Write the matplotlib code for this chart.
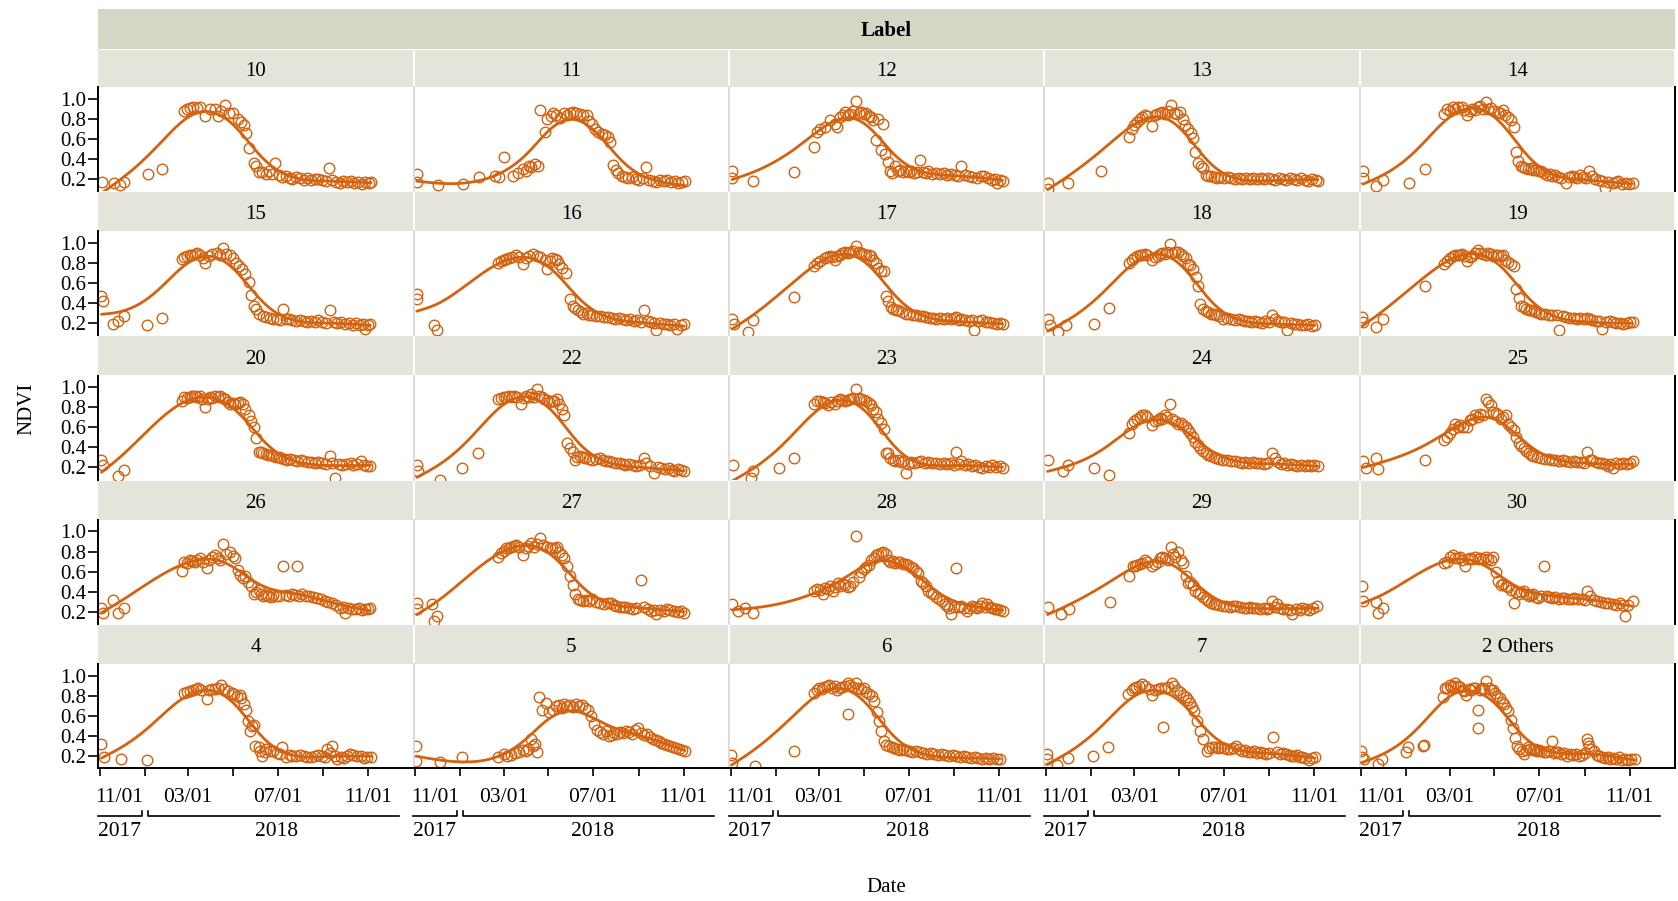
import numpy as np
import matplotlib
matplotlib.use("Agg")
import matplotlib.pyplot as plt
import matplotlib.transforms as mtransforms

plt.rcParams['font.family'] = ['Liberation Serif', 'DejaVu Serif']

# ---------------------------------------------------------------- data
# Observations per label: (days since 2017-11-01, NDVI)
p10 = [(3,.17),(19,.16),(27,.14),(32,.17),(65,.25),(85,.30),(114,.88),(118,.90),(122,.91),(127,.92),(132,.91),(136,.92),(143,.83),(150,.90),(156,.90),(160,.83),(165,.88),(170,.94),(176,.86),(181,.86),(188,.80),(192,.77),(196,.74),(199,.66),(203,.51),(210,.36),(213,.33),(217,.27),(221,.27),(226,.25),(230,.28),(234,.25),(238,.36),(243,.24),(248,.22),(253,.23),(258,.21),(262,.20),(267,.22),(272,.21),(277,.19),(282,.21),(287,.19),(292,.20),(297,.20),(302,.19),(307,.18),(312,.31),(316,.19),(321,.17),(326,.16),(331,.18),(336,.17),(341,.18),(346,.16),(351,.17),(356,.15),(361,.17),(366,.16),(369,.17)]
p11 = [(2,.25),(2,.17),(31,.14),(65,.15),(87,.22),(108,.23),(114,.22),(121,.42),(133,.23),(140,.26),(146,.30),(151,.28),(155,.33),(158,.32),(163,.35),(167,.33),(170,.89),(176,.67),(179,.80),(184,.83),(188,.86),(192,.84),(197,.81),(202,.86),(207,.84),(211,.86),(215,.87),(219,.86),(224,.85),(228,.84),(233,.84),(237,.78),(240,.75),(245,.70),(249,.67),(254,.65),(258,.64),(262,.62),(265,.57),(269,.34),(273,.29),(276,.26),(281,.23),(285,.22),(290,.21),(295,.22),(300,.20),(305,.19),(310,.21),(314,.32),(318,.19),(323,.18),(328,.17),(333,.19),(338,.18),(343,.19),(348,.17),(353,.18),(358,.16),(363,.17),(367,.18)]
p12 = [(2,.28),(2,.21),(31,.18),(86,.27),(114,.52),(117,.67),(122,.70),(128,.72),(135,.79),(142,.75),(145,.72),(149,.82),(153,.84),(156,.87),(160,.84),(163,.85),(167,.88),(170,.98),(174,.86),(177,.87),(181,.85),(184,.86),(188,.83),(191,.82),(194,.79),(198,.59),(201,.80),(204,.49),(207,.75),(210,.45),(214,.37),(217,.28),(220,.26),(224,.33),(228,.28),(231,.29),(235,.27),(238,.28),(242,.27),(245,.28),(250,.26),(254,.27),(258,.39),(262,.27),(266,.26),(269,.28),(274,.25),(280,.26),(285,.25),(290,.26),(295,.24),(300,.25),(305,.24),(310,.23),(314,.33),(319,.24),(324,.23),(329,.22),(335,.21),(340,.23),(345,.23),(350,.21),(356,.19),(360,.20),(363,.16),(367,.19),(370,.18)]
p13 = [(2,.16),(3,.10),(30,.155),(75,.28),(113,.62),(117,.70),(120,.74),(124,.77),(128,.80),(131,.82),(134,.84),(138,.83),(144,.73),(148,.84),(151,.85),(155,.86),(158,.87),(162,.85),(166,.88),(170,.94),(174,.86),(178,.85),(182,.87),(186,.80),(189,.74),(193,.70),(197,.66),(200,.61),(203,.47),(207,.36),(211,.33),(214,.31),(217,.24),(221,.23),(224,.23),(228,.22),(232,.21),(237,.22),(242,.21),(247,.22),(252,.21),(257,.20),(262,.21),(267,.20),(272,.21),(277,.20),(282,.21),(287,.20),(292,.21),(297,.20),(302,.21),(307,.20),(312,.19),(317,.21),(322,.20),(327,.19),(332,.21),(337,.20),(342,.19),(347,.21),(352,.19),(357,.18),(362,.20),(367,.19),(370,.18)]
p14 = [(2,.28),(2,.21),(20,.13),(30,.19),(65,.16),(86,.30),(113,.85),(117,.90),(120,.88),(124,.92),(128,.90),(131,.92),(137,.92),(140,.89),(144,.84),(148,.88),(151,.90),(155,.89),(158,.92),(162,.93),(165,.90),(169,.97),(172,.90),(176,.91),(180,.88),(186,.87),(189,.86),(193,.89),(196,.84),(200,.82),(203,.79),(207,.72),(210,.47),(213,.38),(217,.33),(220,.32),(223,.31),(227,.30),(231,.31),(234,.29),(238,.29),(242,.28),(245,.28),(249,.26),(252,.24),(256,.25),(259,.23),(264,.24),(268,.22),(272,.21),(279,.16),(283,.22),(286,.23),(290,.22),(294,.21),(297,.24),(302,.22),(306,.21),(310,.28),(314,.23),(318,.20),(323,.19),(328,.18),(331,.11),(336,.17),(342,.16),(346,.17),(349,.18),(355,.145),(360,.16),(364,.15),(369,.16)]
p15 = [(2,.47),(4,.42),(18,.19),(25,.22),(32,.27),(64,.18),(85,.25),(111,.84),(115,.86),(118,.87),(122,.88),(125,.885),(129,.89),(132,.90),(136,.88),(140,.85),(143,.80),(148,.87),(153,.895),(159,.90),(164,.88),(168,.95),(172,.89),(177,.885),(181,.85),(185,.80),(189,.77),(193,.74),(198,.69),(203,.61),(206,.48),(209,.375),(212,.34),(217,.29),(222,.27),(226,.26),(231,.25),(236,.24),(241,.24),(245,.23),(249,.34),(253,.24),(257,.24),(262,.23),(267,.22),(272,.23),(277,.22),(282,.21),(287,.22),(292,.21),(297,.23),(302,.21),(307,.20),(313,.335),(318,.21),(323,.20),(328,.21),(334,.19),(339,.20),(344,.18),(349,.20),(354,.18),(358,.19),(361,.145),(365,.18),(368,.19)]
p16 = [(2,.49),(2,.44),(26,.18),(30,.13),(113,.80),(117,.82),(120,.835),(124,.84),(127,.85),(131,.86),(137,.885),(141,.86),(146,.79),(150,.85),(155,.87),(160,.895),(165,.875),(170,.86),(176,.835),(179,.74),(183,.82),(186,.85),(190,.84),(193,.835),(196,.79),(200,.75),(205,.70),(210,.44),(214,.375),(217,.35),(221,.33),(225,.31),(228,.29),(233,.30),(237,.28),(241,.28),(246,.27),(252,.27),(257,.26),(262,.26),(267,.25),(272,.24),(277,.25),(282,.24),(287,.23),(292,.24),(297,.22),(302,.23),(307,.21),(311,.33),(316,.22),(321,.21),(325,.20),(328,.13),(333,.20),(338,.19),(342,.19),(347,.18),(352,.19),(356,.14),(361,.18),(366,.19)]
p17 = [(2,.24),(4,.19),(24,.11),(31,.23),(86,.46),(113,.77),(117,.80),(122,.82),(128,.85),(131,.86),(135,.87),(138,.86),(142,.835),(145,.87),(149,.88),(152,.90),(156,.91),(160,.90),(163,.91),(167,.92),(170,.97),(174,.91),(177,.90),(181,.89),(184,.885),(188,.88),(191,.87),(194,.835),(198,.80),(201,.75),(204,.72),(208,.72),(211,.47),(214,.42),(218,.36),(221,.34),(225,.33),(228,.33),(233,.31),(238,.29),(243,.29),(248,.28),(252,.28),(257,.27),(262,.27),(266,.26),(271,.25),(276,.25),(280,.24),(285,.25),(290,.24),(295,.25),(300,.24),(304,.25),(307,.26),(311,.23),(314,.24),(319,.23),(324,.22),(328,.23),(331,.13),(336,.22),(342,.23),(347,.21),(352,.21),(357,.20),(363,.19),(367,.20),(370,.19)]
p18 = [(2,.24),(6,.18),(16,.11),(27,.18),(65,.19),(86,.35),(113,.80),(117,.835),(120,.85),(124,.87),(128,.88),(131,.885),(134,.895),(138,.88),(144,.83),(148,.86),(152,.87),(155,.89),(158,.90),(162,.895),(165,.91),(169,.985),(172,.90),(176,.91),(179,.91),(183,.89),(186,.87),(190,.85),(193,.79),(196,.78),(200,.74),(204,.66),(207,.57),(210,.39),(214,.34),(217,.32),(221,.31),(224,.29),(228,.29),(231,.28),(236,.27),(241,.24),(246,.25),(252,.24),(257,.23),(262,.24),(266,.23),(271,.22),(275,.22),(279,.21),(284,.22),(289,.21),(294,.20),(298,.22),(303,.21),(307,.28),(311,.24),(315,.22),(320,.21),(324,.21),(328,.13),(333,.20),(338,.19),(342,.19),(347,.18),(352,.18),(357,.19),(362,.17),(366,.18)]
p19 = [(1,.26),(2,.21),(20,.16),(30,.24),(86,.57),(113,.79),(117,.82),(120,.85),(124,.87),(128,.88),(131,.885),(134,.88),(137,.895),(141,.87),(144,.82),(148,.86),(151,.87),(155,.90),(158,.93),(162,.90),(165,.895),(169,.88),(172,.90),(176,.89),(179,.87),(183,.88),(186,.885),(190,.87),(193,.885),(196,.835),(200,.81),(203,.79),(207,.77),(210,.54),(214,.45),(217,.375),(221,.36),(224,.34),(228,.33),(231,.33),(235,.32),(238,.31),(242,.30),(245,.29),(250,.29),(255,.28),(260,.28),(266,.28),(269,.13),(274,.27),(279,.26),(284,.25),(289,.25),(293,.24),(298,.25),(303,.24),(307,.25),(311,.24),(314,.23),(319,.22),(324,.22),(328,.145),(333,.21),(338,.22),(342,.21),(347,.20),(352,.20),(356,.19),(361,.20),(365,.21),(369,.21)]
p20 = [(2,.27),(4,.22),(25,.11),(32,.17),(111,.865),(115,.90),(118,.89),(122,.90),(125,.91),(129,.915),(132,.90),(136,.91),(139,.88),(143,.80),(147,.88),(150,.90),(153,.89),(157,.91),(160,.90),(163,.91),(167,.89),(170,.88),(174,.85),(177,.83),(181,.84),(184,.83),(188,.84),(191,.85),(195,.83),(198,.78),(203,.72),(206,.66),(209,.60),(212,.49),(216,.355),(219,.35),(222,.34),(226,.33),(229,.32),(233,.32),(236,.31),(240,.30),(244,.30),(247,.29),(251,.28),(254,.27),(259,.28),(264,.27),(268,.26),(273,.27),(278,.26),(283,.25),(287,.25),(292,.24),(297,.25),(302,.24),(307,.23),(313,.31),(316,.24),(320,.09),(325,.23),(330,.22),(335,.23),(341,.24),(345,.22),(350,.23),(355,.26),(360,.22),(364,.21),(368,.21)]
p22 = [(2,.22),(3,.16),(33,.075),(64,.19),(85,.34),(113,.88),(117,.89),(120,.90),(124,.90),(127,.91),(131,.90),(134,.915),(138,.90),(144,.83),(148,.89),(151,.91),(155,.90),(158,.93),(162,.90),(165,.98),(168,.915),(172,.90),(175,.88),(179,.87),(182,.85),(186,.86),(189,.865),(193,.88),(196,.83),(200,.78),(203,.72),(207,.44),(211,.39),(214,.355),(217,.27),(220,.30),(224,.31),(228,.30),(231,.29),(236,.28),(241,.27),(246,.28),(252,.29),(255,.27),(259,.26),(264,.26),(268,.25),(273,.24),(278,.24),(282,.23),(286,.22),(291,.23),(296,.22),(301,.21),(306,.22),(311,.29),(314,.24),(319,.21),(325,.14),(330,.20),(335,.19),(340,.18),(345,.19),(349,.17),(352,.16),(357,.18),(361,.17),(366,.165)]
p23 = [(3,.22),(27,.09),(31,.16),(66,.19),(86,.29),(114,.83),(118,.865),(121,.86),(125,.85),(128,.84),(132,.82),(136,.85),(142,.83),(145,.86),(149,.88),(152,.87),(156,.865),(159,.87),(163,.88),(167,.89),(170,.98),(174,.89),(177,.88),(181,.87),(184,.865),(188,.84),(191,.82),(194,.78),(198,.75),(201,.68),(204,.64),(208,.585),(211,.34),(214,.34),(217,.29),(221,.27),(224,.26),(228,.27),(232,.25),(235,.26),(238,.14),(241,.23),(245,.25),(250,.24),(255,.25),(259,.26),(264,.24),(269,.25),(274,.24),(280,.24),(285,.23),(290,.24),(295,.23),(300,.24),(304,.22),(307,.355),(311,.23),(314,.26),(319,.22),(323,.23),(328,.21),(333,.22),(338,.20),(342,.19),(347,.21),(352,.20),(356,.22),(361,.20),(366,.21),(370,.19)]
p24 = [(2,.27),(23,.16),(30,.22),(65,.19),(86,.125),(113,.54),(117,.635),(120,.66),(124,.68),(128,.70),(131,.72),(134,.72),(138,.70),(144,.62),(148,.66),(152,.67),(155,.69),(158,.68),(162,.72),(165,.70),(169,.83),(172,.68),(176,.66),(179,.635),(183,.64),(186,.62),(190,.60),(193,.57),(196,.54),(200,.50),(203,.45),(207,.42),(210,.39),(214,.36),(217,.34),(221,.32),(224,.31),(228,.30),(231,.29),(236,.28),(241,.27),(246,.27),(252,.26),(257,.26),(262,.25),(266,.245),(271,.25),(276,.24),(281,.25),(286,.245),(291,.24),(296,.23),(301,.24),(307,.34),(311,.29),(315,.25),(320,.23),(324,.24),(328,.22),(333,.23),(338,.22),(342,.21),(347,.22),(352,.21),(356,.22),(361,.21),(365,.22),(370,.21)]
p25 = [(2,.26),(6,.19),(20,.29),(23,.18),(86,.27),(113,.47),(117,.50),(120,.54),(124,.58),(127,.635),(131,.60),(134,.62),(138,.60),(144,.60),(148,.67),(151,.68),(155,.72),(158,.70),(162,.73),(165,.72),(169,.88),(172,.85),(176,.82),(179,.75),(183,.74),(186,.72),(190,.685),(193,.70),(197,.72),(200,.635),(204,.60),(207,.57),(210,.50),(214,.44),(217,.41),(221,.39),(224,.36),(228,.34),(231,.32),(234,.31),(239,.30),(245,.29),(250,.28),(255,.28),(259,.27),(264,.27),(269,.26),(274,.27),(279,.26),(284,.25),(289,.26),(294,.25),(299,.25),(303,.24),(307,.355),(311,.27),(314,.27),(319,.25),(324,.24),(328,.24),(331,.23),(335,.21),(338,.23),(342,.19),(347,.24),(352,.23),(356,.24),(361,.23),(366,.24),(370,.26)]
p26 = [(2,.24),(4,.19),(18,.32),(25,.19),(32,.24),(111,.605),(115,.70),(118,.69),(122,.72),(125,.71),(129,.70),(132,.72),(136,.74),(140,.70),(145,.64),(149,.72),(153,.75),(157,.77),(160,.74),(164,.72),(168,.875),(172,.78),(177,.80),(181,.76),(184,.74),(188,.62),(191,.57),(195,.54),(198,.56),(202,.50),(205,.46),(209,.375),(212,.40),(216,.42),(219,.38),(222,.36),(226,.37),(229,.36),(233,.35),(236,.37),(240,.36),(244,.36),(249,.655),(253,.37),(257,.36),(261,.375),(265,.37),(268,.655),(271,.36),(275,.375),(280,.36),(285,.36),(290,.35),(296,.34),(301,.33),(306,.31),(311,.30),(316,.29),(321,.27),(327,.24),(331,.25),(334,.19),(338,.24),(343,.23),(348,.23),(353,.24),(357,.22),(361,.23),(365,.23),(368,.24)]
p27 = [(2,.29),(2,.23),(23,.28),(26,.11),(30,.16),(113,.75),(116,.785),(120,.81),(123,.835),(127,.84),(130,.85),(134,.86),(137,.87),(141,.85),(146,.77),(150,.84),(153,.86),(158,.885),(162,.85),(166,.88),(170,.94),(174,.87),(179,.85),(183,.84),(186,.835),(190,.84),(193,.85),(196,.80),(199,.77),(202,.74),(207,.655),(210,.56),(214,.47),(217,.38),(221,.325),(224,.32),(228,.31),(232,.32),(236,.31),(241,.325),(246,.30),(252,.29),(257,.28),(262,.29),(266,.29),(270,.27),(273,.26),(278,.25),(282,.25),(286,.245),(291,.24),(296,.23),(301,.24),(307,.52),(311,.245),(316,.23),(321,.21),(325,.22),(328,.18),(333,.22),(338,.21),(342,.23),(347,.22),(352,.21),(357,.20),(362,.21),(366,.19)]
p28 = [(2,.28),(10,.21),(20,.24),(31,.19),(114,.41),(118,.425),(121,.42),(125,.375),(128,.44),(132,.43),(135,.46),(139,.41),(142,.45),(146,.49),(149,.46),(153,.48),(156,.47),(160,.45),(163,.46),(167,.50),(170,.95),(174,.55),(177,.60),(181,.63),(184,.65),(188,.67),(191,.72),(195,.74),(198,.77),(201,.78),(205,.79),(207,.80),(211,.78),(214,.72),(217,.70),(221,.71),(224,.69),(228,.70),(231,.70),(235,.68),(238,.68),(241,.67),(245,.65),(248,.64),(252,.61),(255,.59),(259,.51),(262,.49),(266,.46),(269,.41),(273,.39),(276,.375),(280,.35),(284,.33),(287,.31),(291,.28),(294,.26),(297,.24),(300,.18),(304,.25),(307,.64),(311,.25),(314,.26),(318,.24),(321,.21),(325,.24),(328,.26),(332,.25),(335,.24),(339,.26),(342,.29),(346,.25),(349,.28),(353,.25),(356,.24),(360,.23),(363,.23),(367,.22),(370,.21)]
p29 = [(2,.25),(20,.18),(31,.23),(87,.30),(113,.56),(118,.655),(121,.66),(124,.67),(128,.68),(131,.69),(134,.72),(138,.70),(144,.655),(148,.68),(152,.70),(155,.74),(158,.75),(162,.74),(166,.72),(170,.85),(173,.78),(176,.75),(179,.80),(183,.72),(186,.69),(190,.56),(193,.49),(196,.50),(200,.47),(203,.41),(207,.39),(210,.375),(214,.35),(217,.33),(221,.31),(224,.29),(228,.28),(231,.28),(236,.27),(241,.26),(245,.26),(250,.25),(255,.26),(259,.26),(264,.25),(269,.24),(273,.24),(278,.25),(282,.24),(286,.24),(291,.23),(296,.24),(301,.23),(304,.24),(307,.31),(311,.25),(314,.28),(318,.24),(323,.23),(328,.23),(332,.22),(335,.18),(340,.23),(345,.22),(349,.24),(354,.23),(358,.22),(363,.24),(369,.26)]
p30 = [(1,.46),(2,.31),(20,.30),(22,.19),(30,.24),(113,.69),(117,.70),(120,.75),(124,.77),(127,.74),(131,.74),(134,.75),(137,.72),(141,.655),(145,.73),(148,.74),(151,.73),(155,.75),(158,.73),(162,.74),(165,.73),(169,.75),(172,.73),(176,.72),(179,.75),(183,.60),(186,.51),(190,.47),(193,.48),(197,.46),(200,.45),(203,.42),(207,.29),(210,.40),(214,.375),(217,.40),(221,.41),(224,.38),(228,.36),(231,.37),(234,.375),(238,.35),(241,.34),(245,.36),(248,.655),(252,.36),(255,.35),(259,.34),(264,.35),(269,.33),(273,.34),(276,.34),(281,.33),(286,.33),(290,.34),(295,.33),(300,.33),(304,.32),(307,.41),(311,.36),(316,.32),(321,.31),(326,.30),(331,.29),(336,.29),(342,.28),(347,.27),(352,.29),(356,.27),(359,.16),(363,.27),(369,.31)]
p4 = [(2,.32),(5,.19),(29,.17),(64,.16),(114,.83),(119,.84),(122,.85),(126,.86),(130,.87),(134,.875),(138,.86),(145,.77),(149,.86),(153,.87),(156,.865),(160,.875),(165,.91),(169,.87),(174,.85),(179,.83),(183,.82),(187,.80),(190,.81),(192,.78),(196,.72),(199,.66),(202,.55),(204,.45),(207,.50),(210,.51),(211,.30),(216,.285),(218,.25),(221,.20),(224,.24),(226,.27),(231,.25),(236,.25),(241,.23),(245,.22),(248,.285),(253,.19),(258,.21),(262,.20),(267,.20),(272,.21),(277,.20),(282,.19),(287,.19),(292,.20),(297,.21),(302,.20),(306,.19),(309,.27),(313,.23),(316,.30),(320,.20),(323,.17),(328,.19),(332,.18),(336,.20),(340,.22),(345,.21),(350,.20),(355,.20),(360,.18),(364,.19),(369,.19)]
p5 = [(1,.30),(1,.15),(33,.14),(64,.19),(113,.19),(120,.22),(125,.20),(130,.21),(136,.23),(141,.24),(146,.26),(150,.25),(153,.27),(158,.37),(160,.30),(163,.32),(165,.24),(168,.79),(173,.66),(178,.73),(182,.64),(187,.66),(191,.70),(195,.71),(199,.68),(203,.72),(207,.70),(211,.71),(215,.69),(219,.72),(223,.70),(227,.71),(231,.68),(235,.66),(239,.60),(243,.52),(247,.46),(251,.44),(255,.42),(259,.45),(263,.40),(267,.41),(271,.43),(275,.42),(279,.44),(283,.43),(287,.45),(291,.44),(295,.42),(299,.46),(303,.48),(307,.43),(311,.41),(315,.42),(319,.39),(323,.37),(327,.36),(331,.35),(335,.33),(339,.32),(343,.31),(347,.30),(351,.29),(355,.28),(359,.27),(363,.26),(367,.25)]
p6 = [(1,.21),(2,.13),(33,.10),(86,.25),(113,.83),(117,.86),(120,.88),(124,.87),(127,.89),(131,.90),(134,.91),(138,.88),(142,.90),(145,.86),(149,.88),(152,.89),(156,.90),(159,.93),(159,.62),(163,.91),(166,.89),(170,.93),(173,.88),(177,.87),(181,.88),(184,.84),(188,.82),(192,.80),(195,.75),(199,.64),(202,.55),(205,.45),(208,.35),(212,.31),(215,.30),(219,.29),(222,.28),(226,.27),(230,.26),(234,.27),(238,.26),(242,.25),(247,.24),(252,.25),(257,.24),(262,.23),(267,.22),(272,.23),(277,.22),(282,.21),(287,.22),(292,.21),(297,.20),(302,.21),(307,.20),(312,.19),(317,.20),(322,.19),(327,.18),(332,.19),(337,.18),(342,.17),(347,.18),(352,.17),(357,.18),(362,.17),(367,.17)]
p7 = [(1,.22),(1,.17),(15,.11),(30,.18),(64,.20),(84,.285),(112,.82),(117,.86),(120,.88),(122,.89),(126,.90),(131,.92),(135,.90),(140,.87),(144,.81),(148,.86),(152,.87),(156,.875),(159,.49),(162,.88),(166,.89),(171,.93),(174,.90),(178,.86),(182,.84),(187,.81),(190,.79),(193,.76),(196,.73),(199,.69),(202,.65),(205,.55),(209,.45),(214,.37),(219,.25),(222,.28),(226,.285),(230,.29),(234,.28),(238,.285),(242,.28),(246,.27),(250,.27),(254,.28),(258,.30),(263,.27),(267,.25),(271,.26),(275,.24),(279,.24),(283,.25),(287,.23),(291,.24),(295,.23),(299,.22),(304,.23),(309,.39),(314,.24),(318,.22),(322,.23),(326,.22),(330,.21),(334,.20),(337,.20),(341,.21),(345,.19),(349,.19),(353,.18),(358,.155),(362,.18),(366,.19)]
p_others = [(0,.25),(1,.19),(3,.17),(22,.12),(28,.17),(60,.235),(63,.285),(84,.295),(85,.31),(111,.79),(114,.875),(117,.88),(120,.91),(122,.89),(125,.90),(128,.925),(131,.90),(134,.89),(138,.86),(140,.85),(143,.81),(146,.87),(149,.86),(152,.88),(155,.875),(158,.655),(158,.48),(161,.86),(164,.875),(167,.87),(170,.95),(173,.88),(176,.86),(179,.86),(182,.83),(185,.80),(188,.78),(191,.74),(194,.72),(197,.68),(200,.645),(203,.56),(206,.48),(209,.38),(212,.30),(215,.27),(218,.25),(221,.22),(224,.26),(227,.285),(230,.27),(233,.26),(236,.27),(239,.25),(242,.26),(245,.25),(248,.24),(251,.24),(255,.25),(259,.35),(262,.23),(265,.24),(268,.24),(272,.22),(276,.23),(280,.20),(284,.22),(288,.21),(292,.22),(296,.20),(300,.21),(304,.23),(307,.37),(309,.33),(310,.30),(313,.27),(316,.25),(320,.21),(324,.20),(328,.19),(332,.18),(335,.19),(339,.17),(343,.18),(347,.17),(351,.19),(355,.16),(359,.17),(363,.155),(367,.17),(372,.17)]

panel_labels = ["10", "11", "12", "13", "14",
                "15", "16", "17", "18", "19",
                "20", "22", "23", "24", "25",
                "26", "27", "28", "29", "30",
                "4", "5", "6", "7", "2 Others"]
panel_obs = [p10, p11, p12, p13, p14,
             p15, p16, p17, p18, p19,
             p20, p22, p23, p24, p25,
             p26, p27, p28, p29, p30,
             p4, p5, p6, p7, p_others]

start_date = np.datetime64("2017-11-01")
tick_dates = ["2017-11-01", "2018-01-01", "2018-03-01", "2018-05-01",
              "2018-07-01", "2018-09-01", "2018-11-01"]
tick_labels = ["11/01", "", "03/01", "", "07/01", "", "11/01"]
y_ticks = [0.2, 0.4, 0.6, 0.8, 1.0]
year_labels = ["2017", "2018"]

# ---------------------------------------------------------------- style
ORANGE = "#D4620E"
STRIP = "#E4E4DB"
TOP_STRIP = "#D6D6C7"
SEP = "#D4D4D4"
W, H, DPI = 1678, 901, 100
X_LIM = (-2.45, 426.8)
Y_LIM = (0.08, 1.117)
SMOOTH_LAMBDA = 8.0e4

fig = plt.figure(figsize=(W / DPI, H / DPI), dpi=DPI)
fig.patch.set_facecolor("white")


def add_px_axes(x0, y0, x1, y1):
    """Axes placed by pixel box measured from the top-left corner."""
    return fig.add_axes([x0 / W, 1 - y1 / H, (x1 - x0) / W, (y1 - y0) / H])


def smoothing_spline(obs, lam):
    """Penalised (second-difference) smoother on a daily grid."""
    d = np.array([o[0] for o in obs], dtype=int)
    y = np.array([o[1] for o in obs], dtype=float)
    t = np.arange(d.min(), d.max() + 1)
    n = t.size
    w = np.zeros(n)
    s = np.zeros(n)
    np.add.at(w, d - d.min(), 1.0)
    np.add.at(s, d - d.min(), y)
    D = np.diff(np.eye(n), 2, axis=0)
    z = np.linalg.solve(np.diag(w) + lam * D.T @ D, s)
    return t, z


GRID_LEFT, GRID_RIGHT = 98.2, 1675.0
COL_W = (GRID_RIGHT - GRID_LEFT) / 5
ROW_STEP = 144.25
PLOT_TOP0, PLOT_H = 87.0, 104.0

tick_days = [(np.datetime64(t) - start_date).astype(int) for t in tick_dates]

# overall facet header
ax_top = add_px_axes(GRID_LEFT, 9, GRID_RIGHT, 49)
ax_top.set_facecolor(TOP_STRIP)
ax_top.set_xticks([]); ax_top.set_yticks([])
for sp in ax_top.spines.values():
    sp.set_visible(False)
ax_top.text(0.5, 0.45, "Label", ha="center", va="center", fontsize=15,
            fontweight="bold", transform=ax_top.transAxes)

for idx, (label, obs) in enumerate(zip(panel_labels, panel_obs)):
    r, c = divmod(idx, 5)
    x0 = GRID_LEFT + c * COL_W
    x1 = x0 + COL_W
    top = PLOT_TOP0 + r * ROW_STEP
    strip_top = 50.0 if r == 0 else top - ROW_STEP + PLOT_H + 1

    # strip
    sax = add_px_axes(x0 + (1 if c > 0 else 0), strip_top, x1 - 1, top)
    sax.set_facecolor(STRIP)
    sax.set_xticks([]); sax.set_yticks([])
    for sp in sax.spines.values():
        sp.set_visible(False)
    sax.text(0.5, 0.42, label, ha="center", va="center", fontsize=15,
             transform=sax.transAxes)

    # plot
    ax = add_px_axes(x0, top, x1, top + PLOT_H)
    days = [o[0] for o in obs]
    vals = [o[1] for o in obs]
    ax.plot(days, vals, linestyle="none", marker="o", markersize=7.6,
            markerfacecolor="none", markeredgecolor=ORANGE,
            markeredgewidth=1.0, zorder=2)
    t, z = smoothing_spline(obs, SMOOTH_LAMBDA)
    ax.plot(t, z, color=ORANGE, linewidth=2.0, zorder=3,
            solid_capstyle="round")
    ax.set_xlim(*X_LIM)
    ax.set_ylim(*Y_LIM)

    for sp in ax.spines.values():
        sp.set_visible(False)
    if c == 0:
        ax.spines["left"].set_visible(True)
        ax.spines["left"].set_color("black")
        ax.spines["left"].set_linewidth(1.4)
        ax.set_yticks(y_ticks)
        ax.set_yticklabels([f"{v:.1f}" for v in y_ticks])
        ax.tick_params(axis="y", direction="out", length=7.5, width=1.2,
                       pad=1.0, labelsize=15)
    else:
        ax.spines["left"].set_visible(True)
        ax.spines["left"].set_color(SEP)
        ax.spines["left"].set_linewidth(1.2)
        ax.set_yticks([])
    if c == 4:
        ax.spines["right"].set_visible(True)
        ax.spines["right"].set_color("black")
        ax.spines["right"].set_linewidth(1.4)

    if r == 4:
        ax.spines["bottom"].set_visible(True)
        ax.spines["bottom"].set_color("black")
        ax.spines["bottom"].set_linewidth(1.4)
        ax.set_xticks(tick_days)
        ax.set_xticklabels([])
        ax.tick_params(axis="x", direction="out", length=6, width=1.2)
        tr = mtransforms.blended_transform_factory(ax.transData, fig.transFigure)
        for k, (td, tl) in enumerate(zip(tick_days, tick_labels)):
            if not tl:
                continue
            xpos = 26.5 if k == 0 else td
            ax.text(xpos, 1 - 797 / H, tl, transform=tr, ha="center",
                    va="center", fontsize=15.5, clip_on=False)
        yb = 1 - 815.5 / H
        yt = 1 - 811.0 / H
        ax.plot([-2.7, 57.2, 57.2], [yb, yb, yt], transform=tr,
                color="black", linewidth=1.2, clip_on=False)
        ax.plot([65.0, 65.0, 407.0], [yt, yb, yb], transform=tr,
                color="black", linewidth=1.2, clip_on=False)
        ax.text(26.0, 1 - 831 / H, year_labels[0], transform=tr,
                ha="center", va="center", fontsize=15.5, clip_on=False)
        ax.text(241.0, 1 - 831 / H, year_labels[1], transform=tr,
                ha="center", va="center", fontsize=15.5, clip_on=False)
    else:
        ax.set_xticks([])

fig.text(27 / W, 1 - 409 / H, "NDVI", rotation=90, ha="center",
         va="center", fontsize=15)
fig.text(886 / W, 1 - 888 / H, "Date", ha="center", va="center",
         fontsize=15)

fig.savefig("out.png", dpi=DPI, facecolor="white")
